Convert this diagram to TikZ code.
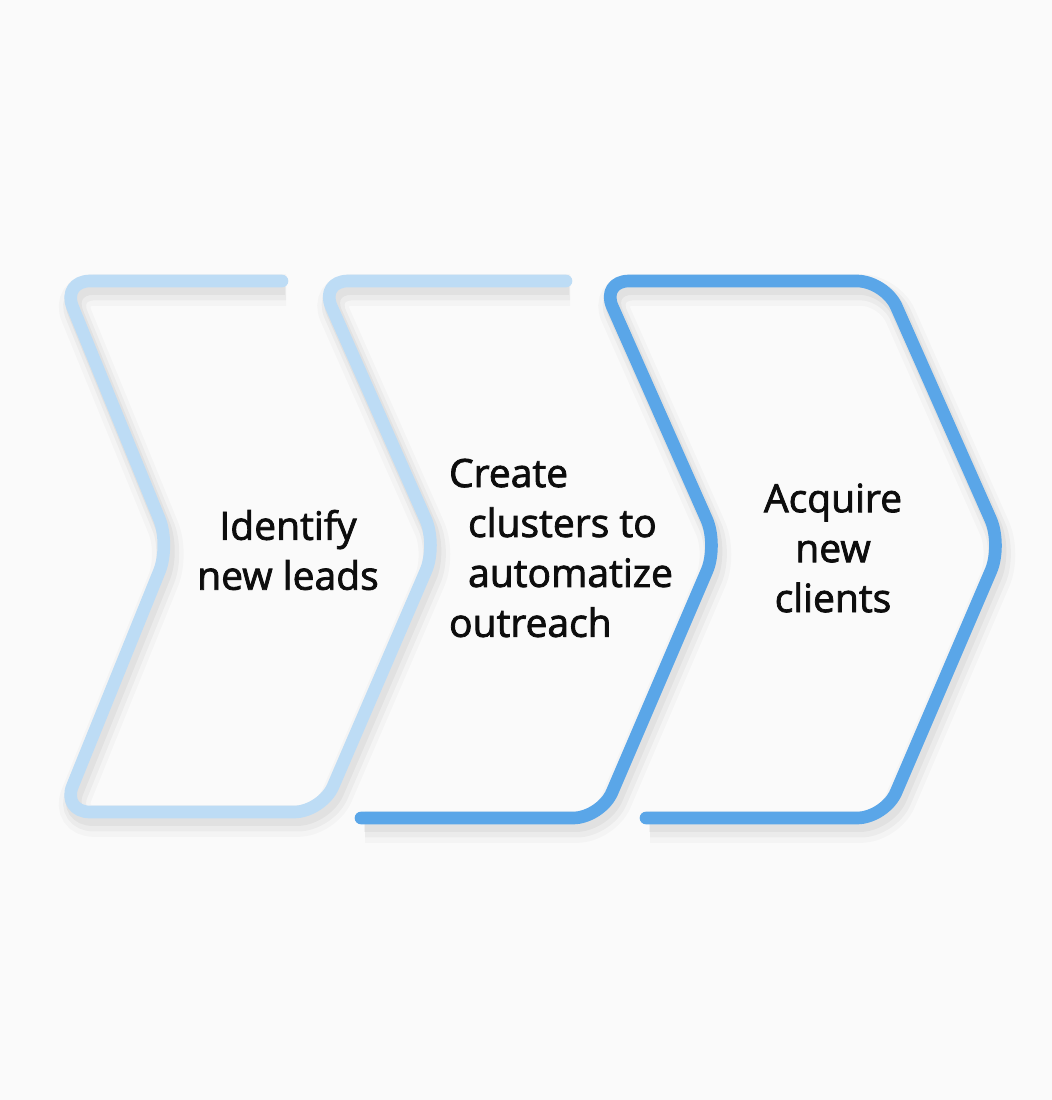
\documentclass[tikz,border=0pt]{standalone}
\usepackage{fontspec}
\setmainfont{Open Sans}[FakeBold=2]
\usepackage{tikz}
\usetikzlibrary{calc}

\definecolor{paper}{HTML}{FAFAFA}
\definecolor{palestep}{HTML}{BDDCF5}
\definecolor{boldstep}{HTML}{5AA6E8}

\begin{document}
\begin{tikzpicture}[
  x=0.01cm, y=-0.01cm,
  shade/.style={
    preaction={draw=black, draw opacity=0.025, line width=9pt,
      transform canvas={xshift=0.04cm, yshift=-0.09cm}},
    preaction={draw=black, draw opacity=0.035, line width=6.5pt,
      transform canvas={xshift=0.04cm, yshift=-0.08cm}},
    preaction={draw=black, draw opacity=0.04, line width=4.5pt,
      transform canvas={xshift=0.03cm, yshift=-0.06cm}}},
  outline/.style={shade, line width=3.6pt, line cap=round, line join=round, rounded corners=0.28cm},
  steptext/.style={align=center, font=\fontsize{11.1pt}{14.2pt}\selectfont, text=black!95, inner sep=0pt}
]
  \fill[paper] (0,0) rectangle (1052,1100);

  % chevron corners
  \coordinate (p1) at (282,281);
  \coordinate (p2) at (62,281);
  \coordinate (p3) at (170,545);
  \coordinate (p4) at (62,812);
  \coordinate (p5) at (322,812);
  \coordinate (p6) at (437,545);
  \coordinate (p7) at (320,281);
  \coordinate (p8) at (566,281);

  \coordinate (q1) at (361,818);
  \coordinate (q2) at (601,818);
  \coordinate (q3) at (718,545);
  \coordinate (q4) at (601,281);
  \coordinate (q5) at (885,281);
  \coordinate (q6) at (1002,545);
  \coordinate (q7) at (885,818);
  \coordinate (q8) at (646,818);

  \draw[outline, palestep] (p1) -- (p2) -- (p3) -- (p4) -- (p5) -- (p6) -- (p7) -- (p8);
  \draw[outline, boldstep] (q1) -- (q2) -- (q3) -- (q4) -- (q5) -- (q6) -- (q7) -- (q8);

  \node[steptext] (leads) at (288,550) {Identify\\new leads};
  \node[steptext, align=left] (clusters) at (561,548)
    {Create\\\hspace*{0.19cm}clusters to\\\hspace*{0.19cm}automatize\\outreach};
  \node[steptext] (clients) at (833,548) {Acquire\\new\\clients};
\end{tikzpicture}
\end{document}
